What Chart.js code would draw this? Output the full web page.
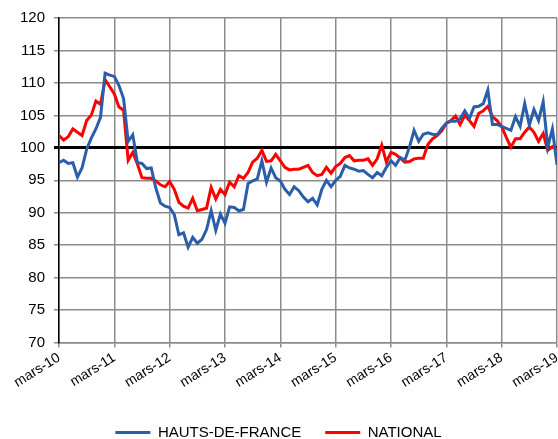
<!DOCTYPE html>
<html>
<head>
<meta charset="utf-8">
<script src="https://cdn.jsdelivr.net/npm/chart.js@4/dist/chart.umd.min.js"></script>
<style>
  html, body { margin: 0; padding: 0; background: #fff; }
  #wrap { width: 558px; height: 439px; position: relative; }
</style>
</head>
<body>
<div id="wrap"><canvas id="chart"></canvas></div>
<script>
// etiquettes de l'axe x (une par an, en mars)
const tickLabels = ['mars-10', 'mars-11', 'mars-12', 'mars-13', 'mars-14',
  'mars-15', 'mars-16', 'mars-17', 'mars-18', 'mars-19'];

// valeurs mensuelles, de mars 2010 a mars 2019
const hautsDeFrance = [
  97.7, 98.1, 97.6, 97.7, 95.5, 96.9, 99.8, 101.5, 102.9, 104.7,
  111.5, 111.2, 111.0, 109.6, 107.6, 101.0, 102.0, 97.7, 97.6, 96.8, 96.9, 93.8,
  91.5, 91.0, 90.8, 89.7, 86.6, 86.9, 84.7, 86.2, 85.3, 85.9, 87.4, 90.3,
  87.3, 89.8, 88.4, 90.9, 90.8, 90.3, 90.5, 94.5, 94.9, 95.2, 98.0, 94.7,
  96.9, 95.4, 94.9, 93.6, 92.8, 94.0, 93.4, 92.4, 91.7, 92.2, 91.2, 93.6,
  95.0, 94.0, 95.0, 95.6, 97.3, 96.9, 96.7, 96.4, 96.5, 95.9, 95.4, 96.2,
  95.7, 97.0, 98.0, 97.3, 98.5, 98.1, 100.1, 102.7, 101.0, 102.1, 102.3, 102.1,
  102.0, 103.0, 103.8, 104.1, 104.1, 104.5, 105.7, 104.5, 106.3, 106.4, 106.8, 108.9,
  103.6, 103.6, 103.3, 103.0, 102.7, 104.8, 103.3, 106.8, 103.5, 105.9, 104.2, 107.1,
  100.1, 102.9, 97.4
];

const national = [
  101.9, 101.2, 101.7, 102.9, 102.4, 101.9, 104.2, 105.0, 107.2, 106.7,
  110.5, 109.4, 108.3, 106.3, 105.8, 98.1, 99.3, 97.5, 95.4, 95.3, 95.3, 94.9,
  94.3, 94.0, 94.8, 93.6, 91.6, 91.0, 90.7, 92.2, 90.3, 90.5, 90.7, 93.9,
  92.1, 93.6, 92.8, 94.7, 94.0, 95.7, 95.3, 96.2, 97.8, 98.4, 99.6, 97.9,
  98.0, 99.0, 98.0, 97.0, 96.6, 96.7, 96.7, 97.0, 97.3, 96.2, 95.7, 95.9,
  97.0, 96.1, 97.1, 97.6, 98.5, 98.8, 98.0, 98.1, 98.1, 98.3, 97.3, 98.3,
  100.4, 97.8, 99.3, 99.0, 98.4, 97.8, 97.9, 98.3, 98.4, 98.4, 100.5, 101.4,
  101.9, 102.6, 103.8, 104.2, 104.9, 103.6, 105.0, 104.2, 103.3, 105.3, 105.7, 106.4,
  104.8, 104.2, 103.3, 101.6, 100.1, 101.4, 101.4, 102.4, 103.2, 102.4, 101.0, 102.2,
  99.6, 100.2, 99.8
];

const toPoints = arr => arr.map((v, i) => ({ x: i, y: v }));

Chart.defaults.font.family = '"Liberation Sans", Arial, sans-serif';
Chart.defaults.color = '#000';

new Chart(document.getElementById('chart'), {
  type: 'line',
  data: {
    datasets: [{
      label: 'HAUTS-DE-FRANCE',
      data: toPoints(hautsDeFrance),
      borderColor: '#2b5ea8',
      backgroundColor: '#2b5ea8',
      borderWidth: 3,
      pointRadius: 0,
      tension: 0
    }, {
      label: 'NATIONAL',
      data: toPoints(national),
      borderColor: '#ff0000',
      backgroundColor: '#ff0000',
      borderWidth: 3,
      pointRadius: 0,
      tension: 0
    }]
  },
  options: {
    responsive: true,
    maintainAspectRatio: false,
    animation: false,
    layout: { padding: { top: 18, right: 1, left: 0, bottom: -11 } },
    plugins: {
      legend: {
        position: 'bottom',
        labels: {
          usePointStyle: true,
          pointStyle: 'line',
          pointStyleWidth: 35,
          boxHeight: 15,
          padding: 24,
          font: { size: 15 }
        }
      },
      tooltip: { enabled: false }
    },
    scales: {
      x: {
        type: 'linear',
        min: 0,
        max: (tickLabels.length - 1) * 12,
        afterBuildTicks: axis => {
          axis.ticks = tickLabels.map((t, i) => ({ value: i * 12 }));
        },
        afterFit: axis => {
          // pas de marge a droite, et la legende plus bas
          axis.paddingRight = 0;
          axis.height += 8;
        },
        ticks: {
          autoSkip: false,
          minRotation: 32,
          maxRotation: 32,
          font: { size: 14 },
          padding: 2,
          callback: (v) => tickLabels[v / 12]
        },
        grid: { color: '#8c8c8c', lineWidth: 1.5, tickLength: 5 },
        border: { color: '#8c8c8c', width: 1.5 }
      },
      y: {
        min: 70,
        max: 120,
        afterFit: axis => { axis.width = 59; },
        ticks: { stepSize: 5, font: { size: 15 }, padding: 9 },
        grid: {
          color: c => c.tick && c.tick.value === 100 ? '#000' : '#8c8c8c',
          lineWidth: c => c.tick && c.tick.value === 100 ? 3 : 1.5,
          tickLength: 5
        },
        border: { color: '#000', width: 1.5 }
      }
    }
  }
});
</script>
</body>
</html>
